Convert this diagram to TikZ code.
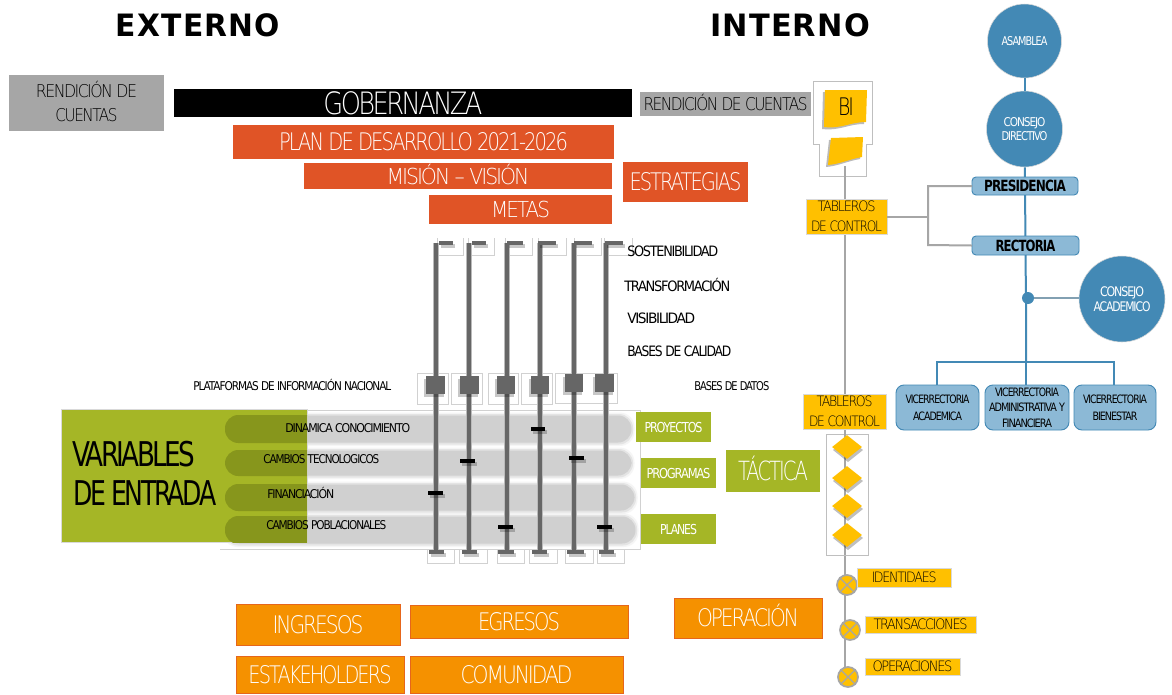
\documentclass[tikz,border=0pt]{standalone}
\usepackage{fontspec}
\usepackage{graphicx}
\usetikzlibrary{shapes.geometric}
\newfontfamily\ltf[LetterSpace=-10]{DejaVu Sans ExtraLight}
\newfontfamily\rgf[LetterSpace=-10]{DejaVu Sans}
\newfontfamily\bdf[LetterSpace=-7]{DejaVu Sans Bold}
\newfontfamily\ttlf[LetterSpace=4]{DejaVu Sans Bold}
\newlength\pxu \setlength\pxu{0.75pt}
\newcommand\setsz[1]{\fontsize{\the\dimexpr#1\pxu*11/10\relax}{\the\dimexpr#1\pxu*11/10\relax}\selectfont}
\newcommand\capb[1]{\raisebox{0pt}[.73em][0pt]{#1}}
\newcommand\tw[3]{\resizebox{#1\pxu}{\height}{\ltf\setsz{#2}\capb{#3}}}
\newcommand\tr[3]{\resizebox{#1\pxu}{\height}{\rgf\setsz{#2}\capb{#3}}}
\newcommand\tbd[3]{\resizebox{#1\pxu}{\height}{\bdf\setsz{#2}\capb{#3}}}
\newcommand\ttl[3]{\resizebox{#1\pxu}{\height}{\ttlf\setsz{#2}\capb{#3}}}
\newcommand\bx[7]{%
  \pgfmathsetmacro\bw{(#5-#3)*0.75}\pgfmathsetmacro\bh{(#6-#4)*0.75}%
  \node[#2,minimum width=\bw pt,minimum height=\bh pt,inner sep=0pt,outer sep=0pt] (#1) at ({(#3+#5)/2},{(#4+#6)/2}) {#7};}
\definecolor{redor}{HTML}{E05426}
\definecolor{oran}{HTML}{F59100}
\definecolor{yel}{HTML}{FFC000}
\definecolor{grn}{HTML}{A5B626}
\definecolor{dgrn}{HTML}{87961C}
\definecolor{bluec}{HTML}{4389B5}
\definecolor{bluel}{HTML}{8CB9D6}
\definecolor{pill}{HTML}{D0D0D0}
\definecolor{slid}{HTML}{666666}
\tikzset{
  redbox/.style={fill=redor,text=white,align=center},
  orbox/.style={fill=oran,draw=redor!70!oran,line width=.6pt,text=white,align=center},
  grnbox/.style={fill=grn,text=white,align=center},
  yelbox/.style={fill=yel,draw=black!15,line width=.5pt,text=black,align=center},
  graybox/.style={fill=black!35,text=black,align=center},
  bluebox/.style={fill=bluel,draw=bluec,line width=.7pt,rounded corners=3pt,text=black,align=center},
  vicebox/.style={fill=bluel,draw=bluec,line width=.7pt,rounded corners=6pt,text=black,align=center},
  bigc/.style={circle,fill=bluec,text=white,align=center,inner sep=0pt,draw=black!15,line width=.4pt},
  lbl/.style={text=black,inner sep=0pt,anchor=west},
  lh/.style={font=\fontsize{8}{#1}\selectfont},
  faint/.style={draw=black!18,line width=.5pt},
  slider/.style={draw=slid,line width=3.4pt},
  sliderglow/.style={draw=slid!45,line width=5.2pt},
  shade/.style={draw=black,opacity=.22},
  trunk/.style={draw=black!35,line width=2.2pt},
  grayline/.style={draw=black!35,line width=1.5pt},
  blueline/.style={draw=bluec,line width=1.5pt},
  dia/.style={diamond,fill=yel,minimum width=22.5pt,minimum height=18pt,inner sep=0pt,aspect=1.25},
  xcirc/.style={circle,fill=yel,draw=black!35,line width=1.3pt,minimum size=15pt,inner sep=0pt},
}
\begin{document}
\begin{tikzpicture}[x=0.75pt,y=-0.75pt]
\useasboundingbox (0,0) rectangle (1172,694);
\fill[white] (0,0) rectangle (1172,694);
% titles
\node[inner sep=0pt] (tex) at (198,25) {\ttl{164}{28}{EXTERNO}};
\node[inner sep=0pt] (tin) at (790,25) {\ttl{160}{28}{INTERNO}};
% top boxes
\bx{rc1}{graybox,lh=18}{9}{75}{164}{131}{\tw{101}{16}{RENDICIÓN DE}\\\tw{62}{16}{CUENTAS}}
\bx{gob}{fill=black,text=white}{174}{89}{632}{117}{\tw{159}{28}{GOBERNANZA}}
\bx{plan}{redbox}{233}{125}{614}{159}{\tw{289}{22}{PLAN DE DESARROLLO 2021-2026}}
\bx{mis}{redbox}{304}{163}{612}{189}{\tw{143}{20}{MISIÓN – VISIÓN}}
\bx{met}{redbox}{429}{195}{612}{224}{\tw{59}{20}{METAS}}
\bx{est}{redbox}{623}{162}{748}{202}{\tw{112}{22}{ESTRATEGIAS}}
\bx{rc2}{graybox}{640}{92}{811}{116}{\tw{164}{16}{RENDICIÓN DE CUENTAS}}
% large faint frame and pills
\draw[faint] (220,549) -- (640,549) -- (640,410) -- (307,410);
\foreach \n/\a/\b/\r in {1/415/443/632,2/450/476/632,3/484/511/635,4/516/544/636}{
  \fill[pill,opacity=.2,rounded corners=11pt] (223,{\a-2.5}) rectangle ({\r+2.5},{\b+3});
  \fill[pill,opacity=.45,rounded corners=10.5pt] (224,{\a-1}) rectangle ({\r+1},{\b+1.5});
  \fill[pill,rounded corners=10pt] (226,{\a+.5}) rectangle ({\r-.5},{\b-.5});
}
% green panel
\bx{var}{fill=grn,draw=black!15,line width=.5pt}{61}{409}{307}{542}{}
\begin{scope}
\clip (61,409) rectangle (307,542);
\foreach \a/\b in {415/443,450/476,484/511,516/544}{
  \fill[dgrn,rounded corners=10pt] (225,\a) rectangle (500,\b);
}
\end{scope}
\node[inner sep=0pt,anchor=west] (v1) at (72,454) {\tr{123}{31}{VARIABLES}};
\node[inner sep=0pt,anchor=west] (v2) at (73,493) {\tr{143}{31}{DE ENTRADA}};
\node[lbl] (r1) at (285,428) {\tr{125}{11}{DINAMICA CONOCIMIENTO}};
\node[lbl] (r2) at (263,459) {\tr{116}{11}{CAMBIOS TECNOLOGICOS}};
\node[lbl] (r3) at (267,494) {\tr{67}{11}{FINANCIACIÓN}};
\node[lbl] (r4) at (266,525) {\tr{120}{11}{CAMBIOS POBLACIONALES}};
% faint slider frames
\foreach \l/\r in {437/463,468/494,505/532,538/566,574/601,604/632}{
  \draw[faint] (\l,238) -- (\l,255) -- (\r,255) -- (\r,238);}
\foreach \l/\r in {417/448,451/482,488/518,521/552}{
  \draw[faint] (\l,373) rectangle (\r,404);}
\draw[faint] (555,373) rectangle (617,403);
\foreach \l/\r in {427/454,459/487,497/524,529/557,565/593,597/624}{
  \draw[faint] (\l,549) -- (\l,563) -- (\r,563) -- (\r,549);}
% sliders
\foreach \i/\x/\ca/\cb/\sy/\sa/\sb/\ka/\kb/\ky/\ea/\eb in {
  1/436/439/453/385/426/445/428/443/493/429/444,
  2/469/472/486/385/460/479/460/475/461/462/477,
  3/507/507/523/385/497/515/498/513/527/498/514,
  4/540/538/556/385/531/549/531/545/429/532/547,
  5/574/574/592/383/565/583/569/584/458/567/584,
  6/606/605/623/383/595/614/597/612/527/599/614}{
  \coordinate (st\i) at (\x,243);
  \coordinate (sb\i) at (\x,552);
  \draw[sliderglow] (st\i) -- (sb\i);
  \draw[slider] (st\i) -- (sb\i);
  \draw[shade,line width=3pt] ({\ca+2},246) -- ({\cb+2},246);
  \draw[draw=slid,line width=3pt] (\ca,243) -- (\cb,243);
  \fill[black,opacity=.22] ({\sa-2},{\sy-6}) rectangle ({\sb-1},{\sy+12});
  \node[fill=slid,minimum width={(\sb-\sa)*.75pt},minimum height=13.5pt,inner sep=0pt] (sq\i) at ({(\sa+\sb)/2},\sy) {};
  \draw[shade,line width=3pt] ({\ka+2},{\ky+3}) -- ({\kb+2},{\ky+3});
  \draw[draw=black,line width=2.4pt] (\ka,\ky) -- (\kb,\ky);
  \draw[shade,line width=3pt] ({\ea+2},555) -- ({\eb+2},555);
  \draw[draw=slid,line width=3pt] (\ea,552) -- (\eb,552);
}
% slider labels
\node[lbl] (l1) at (627,251) {\tr{91}{13}{SOSTENIBILIDAD}};
\node[lbl] (l2) at (624,286) {\tr{106}{13}{TRANSFORMACIÓN}};
\node[lbl] (l3) at (627,318) {\tr{68}{13}{VISIBILIDAD}};
\node[lbl] (l4) at (627,351) {\tr{104}{13}{BASES DE CALIDAD}};
\node[lbl] (l5) at (694,386) {\tr{75}{11}{BASES DE DATOS}};
\node[lbl] (l6) at (193,386) {\tr{198}{11}{PLATAFORMAS DE INFORMACIÓN NACIONAL}};
% green boxes
\bx{pry}{grnbox}{636}{412}{711}{442}{\tr{58}{12.5}{PROYECTOS}}
\bx{prg}{grnbox}{641}{458}{716}{488}{\tr{64}{12.5}{PROGRAMAS}}
\bx{pln}{grnbox}{641}{514}{716}{544}{\tr{37}{12.5}{PLANES}}
\bx{tac}{grnbox}{726}{450}{820}{492}{\tw{70}{24}{TÁCTICA}}
% orange boxes
\bx{ing}{orbox}{236}{604}{400}{645}{\tw{91}{22}{INGRESOS}}
\bx{egr}{orbox}{410}{605}{628}{638}{\tw{82}{22}{EGRESOS}}
\bx{ope}{orbox}{674}{598}{822}{638}{\tw{102}{22}{OPERACIÓN}}
\bx{stk}{orbox}{236}{656}{404}{693}{\tw{143}{22}{ESTAKEHOLDERS}}
\bx{com}{orbox}{410}{656}{623}{693}{\tw{112}{22}{COMUNIDAD}}
% BI column
\draw[faint,draw=black!25] (813,81) -- (872,81) -- (872,144) -- (866,144) -- (866,176) -- (819,176) -- (819,144) -- (813,144) -- cycle;
\coordinate (trtop) at (845,166);
\coordinate (trbot) at (845,686);
\draw[trunk] (trtop) -- (trbot);
\draw[faint,draw=black!25,fill=white] (826,434) rectangle (868,555);
\draw[trunk] (845,429) -- (845,555);
\fill[black!45,opacity=.6] (823,92) -- (865,92) -- (864,124) .. controls (848,124) and (840,131) .. (822,129) -- cycle;
\fill[yel] (825,90) -- (867,90) -- (866,122) .. controls (850,122) and (842,129) .. (824,127) -- cycle;
\node[inner sep=0pt] (bi) at (846,107) {\tw{16}{22}{BI}};
\fill[black!45,opacity=.6] (829,140) -- (861,139) -- (860,159) .. controls (848,161) and (838,166) .. (826,167) -- cycle;
\fill[yel] (831,138) -- (863,137) -- (862,157) .. controls (850,159) and (840,164) .. (828,165) -- cycle;
\bx{tab1}{yelbox,lh=15}{806}{199}{887}{234}{\tw{58}{13}{TABLEROS}\\\tw{71}{13}{DE CONTROL}}
\bx{tab2}{yelbox,lh=15}{803}{394}{886}{429}{\tw{56}{13}{TABLEROS}\\\tw{71}{13}{DE CONTROL}}
\foreach \i/\y in {1/447,2/478,3/506,4/535}{
  \fill[black,opacity=.25] (833,{\y+3}) -- (848,{\y-9}) -- (863,{\y+3}) -- (848,{\y+15}) -- cycle;
  \node[dia] (d\i) at (847,\y) {};
}
\foreach \i/\x/\y in {1/847/585,2/850/630,3/848/677}{
  \node[xcirc] (c\i) at (\x,\y) {};
  \draw[draw=black!35,line width=1pt] (c\i.north west) -- (c\i.south east) (c\i.north east) -- (c\i.south west);
}
\bx{id}{yelbox}{857}{568}{951}{587}{\tw{65}{13}{IDENTIDAES}}
\bx{trn}{yelbox}{865}{616}{976}{633}{\tw{94}{13}{TRANSACCIONES}}
\bx{opr}{yelbox}{865}{658}{960}{675}{\tw{80}{13}{OPERACIONES}}
% org chart
\node[bigc,minimum size=55.5pt] (asa) at (1024.5,41) {\tr{46}{11}{ASAMBLEA}};
\node[bigc,minimum size=57pt,lh=11] (dir) at (1024.5,129) {\tr{42}{11}{CONSEJO}\\\tr{46}{11}{DIRECTIVO}};
\bx{pre}{bluebox}{972}{177}{1078}{195}{\tbd{82}{14}{PRESIDENCIA}}
\bx{rec}{bluebox}{972}{236}{1079}{255}{\tbd{60}{14}{RECTORIA}}
\node[bigc,minimum size=64.5pt,lh=11.5] (aca) at (1122,299) {\tr{44}{12}{CONSEJO}\\\tr{57}{12}{ACADEMICO}};
\bx{v1b}{vicebox,lh=13}{896}{385}{979}{430}{\tr{64}{10.5}{VICERRECTORIA}\\\tr{49}{10.5}{ACADEMICA}}
\bx{v2b}{vicebox,lh=11.5}{985}{385}{1069}{430}{\tr{64}{10.5}{VICERRECTORIA}\\\tr{76}{10.5}{ADMINISTRATIVA Y}\\\tr{50}{10.5}{FINANCIERA}}
\bx{v3b}{vicebox,lh=13}{1074}{385}{1156}{430}{\tr{64}{10.5}{VICERRECTORIA}\\\tr{45}{10.5}{BIENESTAR}}
\coordinate (junc) at (1028,298);
\coordinate (busl) at (937,362);
\coordinate (busm) at (1026,362);
\coordinate (busr) at (1114,362);
\coordinate (fork) at (928,217);
\draw[blueline] (asa) -- (dir);
\draw[blueline] (dir) -- (pre);
\draw[blueline] (pre) -- (rec);
\draw[blueline] (rec.south) -- (1026,298) -- (busm);
\draw[blueline] (busm) -- (v2b.north -| busm);
\draw[blueline] (v1b.north -| busl) -- (busl) -- (busr) -- (v3b.north -| busr);
\draw[draw=bluec!70!black!60,line width=1.5pt] (junc) -- (aca.west |- junc);
\fill[bluec] (junc) circle (6);
\draw[grayline] (tab1.east |- fork) -- (fork);
\draw[grayline] (pre.west) -- (928,186) -- (928,245) -- (rec.west);
\end{tikzpicture}
\end{document}
